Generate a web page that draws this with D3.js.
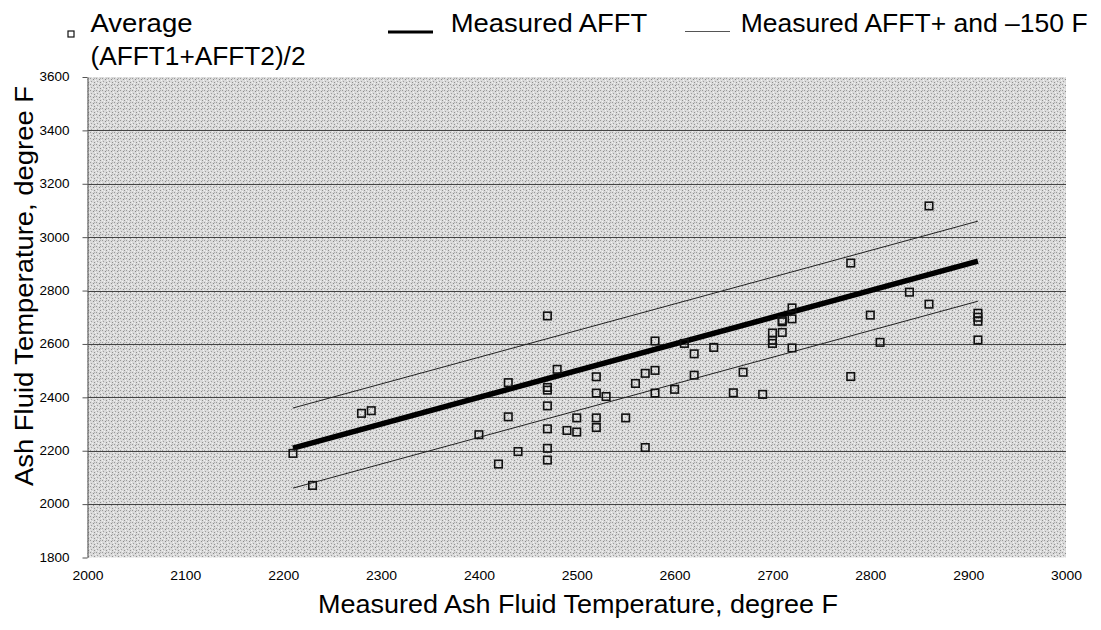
<!DOCTYPE html>
<html><head><meta charset="utf-8">
<script src="https://cdn.jsdelivr.net/npm/d3@7/dist/d3.min.js"></script>
<style>html,body{margin:0;padding:0;background:#fff;}svg{display:block;font-family:"Liberation Sans",Arial,sans-serif;}</style>
</head><body>
<svg id="c" width="1101" height="630"></svg>
<script>
// ---- data ----
const avgX = [2210,2230,2280,2290,2400,2420,2430,2430,2440,
  2470,2470,2470,2470,2470,2470,2470,
  2480,2490,2500,2500,
  2520,2520,2520,2520,2530,2550,2560,2570,2570,
  2580,2580,2580,2600,2610,2620,2620,2640,2660,2670,2690,
  2700,2700,2700,2710,2710,2710,2720,2720,2720,
  2780,2780,2800,2810,2840,2860,2860,
  2910,2910,2910,2910];
const avgY = [2190,2070,2340,2350,2260,2150,2455,2327,2197,
  2705,2437,2427,2368,2282,2209,2165,
  2505,2276,2323,2270,
  2477,2416,2323,2287,2403,2323,2452,2490,2212,
  2611,2501,2416,2430,2602,2563,2483,2587,2417,2494,2411,
  2641,2614,2602,2688,2683,2643,2735,2694,2585,
  2903,2478,2708,2606,2794,3117,2749,
  2715,2700,2685,2615];
const lineX = [2210, 2910];
const measuredY = [2210, 2910];
const upperY = [2360, 3060];
const lowerY = [2060, 2760];
const xTicks = [2000,2100,2200,2300,2400,2500,2600,2700,2800,2900,3000];
const yTicks = [1800,2000,2200,2400,2600,2800,3000,3200,3400,3600];
const gridVals = [2000,2200,2400,2600,2800,3000,3200,3400];
const legendLabels = ["Average", "(AFFT1+AFFT2)/2", "Measured AFFT", "Measured AFFT+ and \u2013150 F"];
const xTitle = "Measured Ash Fluid Temperature, degree F";
const yTitle = "Ash Fluid Temperature, degree F";

// ---- drawing ----
const svg = d3.select("#c");
const x = d3.scaleLinear().domain([2000,3000]).range([87.5,1066]);
const y = d3.scaleLinear().domain([1800,3600]).range([557.5,77]);

// stipple pattern
const defs = svg.append("defs");
const pat = defs.append("pattern").attr("id","stip").attr("patternUnits","userSpaceOnUse")
  .attr("width",6).attr("height",6);
pat.append("rect").attr("width",6).attr("height",6).attr("fill","#dadada");
[[0,0,"#9a9a9a"],[3,1,"#8a8a8a"],[1,3,"#a0a0a0"],[4,4,"#909090"],[5,2,"#f4f4f4"],[2,5,"#f2f2f2"],[0,4,"#f0f0f0"],[4,0,"#b0b0b0"]]
  .forEach(d => pat.append("rect").attr("x",d[0]).attr("y",d[1]).attr("width",1).attr("height",1).attr("fill",d[2]));

svg.append("rect").attr("x",x(2000)).attr("y",y(3600))
  .attr("width",x(3000)-x(2000)).attr("height",y(1800)-y(3600)).attr("fill","url(#stip)");

// gridlines
svg.append("g").selectAll("line").data(gridVals).join("line")
  .attr("x1",x(2000)).attr("x2",x(3000))
  .attr("y1",d=>Math.round(y(d))+0.5).attr("y2",d=>Math.round(y(d))+0.5)
  .attr("stroke","#444").attr("stroke-width",1);

// y axis
const yAxis = svg.append("g").attr("transform",`translate(${x(2000)},0)`)
  .call(d3.axisLeft(y).tickValues(yTicks).tickSize(5).tickSizeOuter(0).tickFormat(d3.format("d")));
yAxis.select(".domain").attr("stroke","#555");
yAxis.selectAll(".tick line").attr("stroke","#555");
yAxis.selectAll(".tick text").attr("font-size",12).attr("fill","#000").attr("x",-18)
  .attr("textLength",30).attr("lengthAdjust","spacingAndGlyphs").attr("text-anchor","end");

// x axis (labels only)
const xAxis = svg.append("g").attr("transform",`translate(0,${y(1800)})`)
  .call(d3.axisBottom(x).tickValues(xTicks).tickSize(0).tickPadding(14).tickFormat(d3.format("d")));
xAxis.select(".domain").remove();
xAxis.selectAll(".tick text").attr("font-size",12).attr("fill","#000")
  .attr("textLength",31).attr("lengthAdjust","spacingAndGlyphs");

// lines
const lg = d3.line().x(d=>x(d[0])).y(d=>y(d[1]));
svg.append("path").datum(lineX.map((v,i)=>[v,upperY[i]])).attr("d",lg)
  .attr("fill","none").attr("stroke","#222").attr("stroke-width",1);
svg.append("path").datum(lineX.map((v,i)=>[v,lowerY[i]])).attr("d",lg)
  .attr("fill","none").attr("stroke","#222").attr("stroke-width",1);
svg.append("path").datum(lineX.map((v,i)=>[v,measuredY[i]])).attr("d",lg)
  .attr("fill","none").attr("stroke","#000").attr("stroke-width",5.5);

// points
svg.append("g").selectAll("rect").data(avgX.map((v,i)=>[v,avgY[i]])).join("rect")
  .attr("x",d=>x(d[0])-3.75).attr("y",d=>y(d[1])-3.75).attr("width",7.5).attr("height",7.5)
  .attr("fill","none").attr("stroke","#111").attr("stroke-width",1.6);

// axis titles
svg.append("text").attr("x",578).attr("y",613).attr("text-anchor","middle")
  .attr("font-size",26).attr("fill","#000").attr("textLength",520).attr("lengthAdjust","spacingAndGlyphs").text(xTitle);
svg.append("text").attr("transform","translate(33,286) rotate(-90)").attr("text-anchor","middle")
  .attr("font-size",25).attr("fill","#000").attr("textLength",400).attr("lengthAdjust","spacingAndGlyphs").text(yTitle);

// legend
const leg = svg.append("g");
leg.append("rect").attr("x",68).attr("y",31).attr("width",6).attr("height",6)
  .attr("fill","#fff").attr("stroke","#111").attr("stroke-width",1.2);
leg.append("text").attr("x",90.5).attr("y",32).attr("font-size",25).attr("textLength",102).attr("lengthAdjust","spacingAndGlyphs").text(legendLabels[0]);
leg.append("text").attr("x",90.5).attr("y",65).attr("font-size",25).attr("textLength",215).attr("lengthAdjust","spacingAndGlyphs").text(legendLabels[1]);
leg.append("line").attr("x1",388).attr("x2",433).attr("y1",32).attr("y2",32).attr("stroke","#000").attr("stroke-width",3);
leg.append("text").attr("x",450.7).attr("y",32.3).attr("font-size",26.5).attr("textLength",196.6).attr("lengthAdjust","spacingAndGlyphs").text(legendLabels[2]);
leg.append("line").attr("x1",685).attr("x2",730).attr("y1",31.5).attr("y2",31.5).attr("stroke","#555").attr("stroke-width",1);
leg.append("text").attr("x",740.7).attr("y",32.3).attr("font-size",26.5).text(legendLabels[3]);
</script>
</body></html>
